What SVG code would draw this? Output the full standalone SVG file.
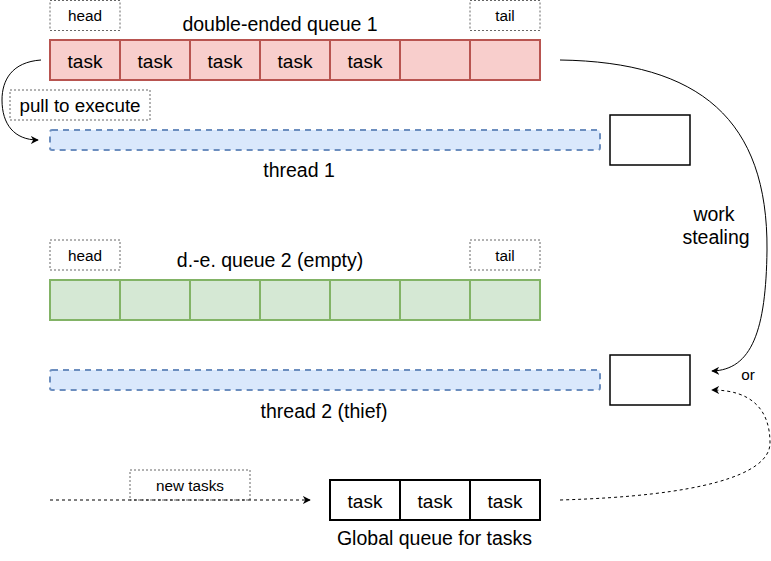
<svg xmlns="http://www.w3.org/2000/svg" width="771" height="561" viewBox="0 0 771 561">
<style>
text{font-family:"Liberation Sans",Arial,sans-serif;fill:#000;text-anchor:middle}
.lbl{fill:#fff;stroke:#666;stroke-dasharray:2 2;stroke-width:1}
.red{fill:#f8cecc;stroke:#b85450;stroke-width:2}
.grn{fill:#d5e8d4;stroke:#82b366;stroke-width:2}
.thr{fill:#dae8fc;stroke:#6c8ebf;stroke-width:2;stroke-dasharray:6 5}
.box{fill:#fff;stroke:#000;stroke-width:1.5}
.glb{fill:#fff;stroke:#000;stroke-width:2}
.t19{font-size:19.5px}
.tk{font-size:19px}
.t15{font-size:15.3px}
.t18{font-size:18.8px}
.conn{fill:none;stroke:#000;stroke-width:1}
</style>
<defs>
<marker id="arr" viewBox="0 0 10 10" refX="9" refY="5" markerWidth="8" markerHeight="8" orient="auto" markerUnits="userSpaceOnUse">
<path d="M0,0 L10,5 L0,10 L3,5 Z" fill="#000"/>
</marker>
</defs>
<rect width="771" height="561" fill="#fff"/>

<g id="head1"><rect class="lbl" x="50" y="0.5" width="70" height="30"/><text class="t15" x="85" y="21">head</text></g>
<g id="tail1"><rect class="lbl" x="470" y="0.5" width="70" height="30"/><text class="t15" x="505" y="21">tail</text></g>
<g id="title1"><text class="t19" x="280" y="31">double-ended queue 1</text></g>
<g id="queue1">
<rect class="red" x="50" y="40" width="70" height="40"/><text class="tk" x="85" y="68">task</text>
<rect class="red" x="120" y="40" width="70" height="40"/><text class="tk" x="155" y="68">task</text>
<rect class="red" x="190" y="40" width="70" height="40"/><text class="tk" x="225" y="68">task</text>
<rect class="red" x="260" y="40" width="70" height="40"/><text class="tk" x="295" y="68">task</text>
<rect class="red" x="330" y="40" width="70" height="40"/><text class="tk" x="365" y="68">task</text>
<rect class="red" x="400" y="40" width="70" height="40"/>
<rect class="red" x="470" y="40" width="70" height="40"/>
</g>
<g id="pull"><rect class="lbl" x="10" y="90" width="140" height="30"/><text class="t18" x="80" y="112">pull to execute</text></g>
<g id="thread1">
<rect class="thr" x="50" y="130" width="550" height="20" rx="2"/>
<rect class="box" x="610" y="115" width="80" height="50"/>
<text class="t19" x="299" y="177">thread 1</text>
</g>

<g id="head2"><rect class="lbl" x="50" y="240" width="70" height="30"/><text class="t15" x="85" y="261">head</text></g>
<g id="tail2"><rect class="lbl" x="470" y="240" width="70" height="30"/><text class="t15" x="505" y="261">tail</text></g>
<g id="title2"><text class="t19" x="270" y="267">d.-e. queue 2 (empty)</text></g>
<g id="queue2">
<rect class="grn" x="50" y="280" width="70" height="40"/>
<rect class="grn" x="120" y="280" width="70" height="40"/>
<rect class="grn" x="190" y="280" width="70" height="40"/>
<rect class="grn" x="260" y="280" width="70" height="40"/>
<rect class="grn" x="330" y="280" width="70" height="40"/>
<rect class="grn" x="400" y="280" width="70" height="40"/>
<rect class="grn" x="470" y="280" width="70" height="40"/>
</g>
<g id="thread2">
<rect class="thr" x="50" y="370" width="550" height="20" rx="2"/>
<rect class="box" x="610" y="355" width="80" height="50"/>
<text class="t19" x="324" y="418">thread 2 (thief)</text>
</g>

<g id="newtasks"><rect class="lbl" x="130" y="470" width="120" height="30"/><text class="t15" x="190" y="491">new tasks</text></g>
<g id="global">
<rect class="glb" x="330" y="480" width="70" height="40"/><text class="tk" x="365" y="508">task</text>
<rect class="glb" x="400" y="480" width="70" height="40"/><text class="tk" x="435" y="508">task</text>
<rect class="glb" x="470" y="480" width="70" height="40"/><text class="tk" x="505" y="508">task</text>
<text class="t19" x="434.5" y="545">Global queue for tasks</text>
</g>

<g id="connectors">
<path class="conn" d="M41,60 C12,62 2,80 2,100 C2,124 14,140 38,140" marker-end="url(#arr)"/>
<path class="conn" d="M560,60 C700,62 768,120 767,250 C766,330 752,370 712,371" marker-end="url(#arr)"/>
<path class="conn" stroke-dasharray="3 3" d="M560,500 C700,496 770,475 770,443 C770,410 752,390 712,390" marker-end="url(#arr)"/>
<path class="conn" stroke-dasharray="3 3" d="M50,500 L310,500" marker-end="url(#arr)"/>
<text class="t19" x="714" y="221">work</text>
<text class="t19" x="716" y="244">stealing</text>
<text class="t15" x="748" y="380">or</text>
</g>
</svg>
